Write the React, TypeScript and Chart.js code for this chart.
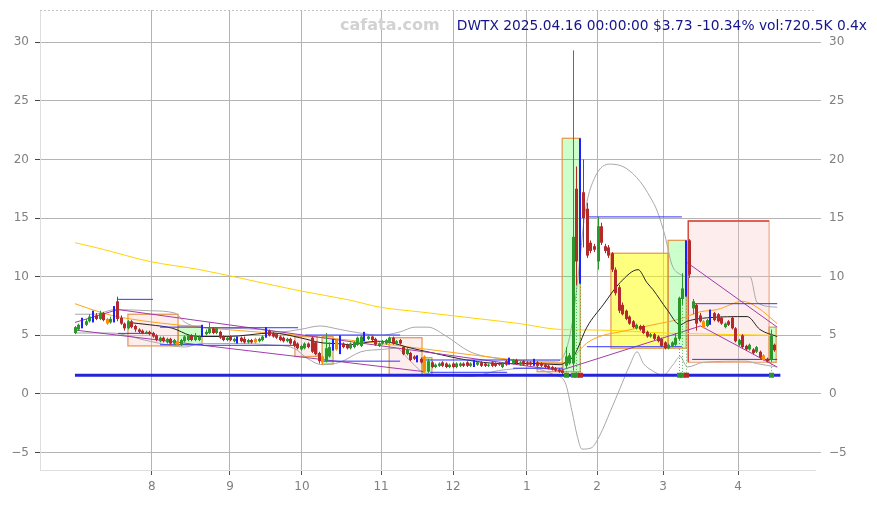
import React, { useEffect, useRef } from "react";
import { Chart, registerables } from "chart.js";
Chart.register(...registerables);

// ---------- candle data (trading-day index 0..198) ----------
const opens = [
  5.2,5.5,5.7,5.9,6.2,6.2,6.7,6.4,6.9,6.4,
  6.1,6.2,7.9,6.5,6.0,5.6,6.2,5.8,5.5,5.4,
  5.2,5.3,5.2,5.0,4.5,4.8,4.4,4.7,4.3,4.5,
  4.2,4.5,4.6,5.0,4.6,4.6,5.0,5.1,5.2,5.6,
  5.2,5.3,4.9,4.6,4.9,4.5,4.4,4.8,4.7,4.4,
  4.6,4.7,4.5,4.6,4.9,5.4,5.2,5.1,4.9,4.8,
  4.5,4.7,4.5,4.3,3.8,3.9,4.3,4.8,4.4,3.5,
  3.2,2.8,3.2,3.8,4.6,3.5,4.3,4.2,3.9,4.0,
  4.2,4.1,4.6,4.7,4.9,4.7,4.1,4.3,4.3,4.4,
  4.8,4.3,4.6,4.0,3.4,3.5,3.2,2.8,3.0,3.2,
  1.9,2.7,2.3,2.4,2.7,2.6,2.3,2.6,2.3,2.4,
  2.6,2.7,2.4,2.4,2.5,2.7,2.6,2.4,2.7,2.6,
  2.6,2.3,2.8,2.6,2.6,2.9,2.5,2.8,2.7,2.7,
  2.5,2.7,2.6,2.5,2.4,2.3,2.2,2.1,2.0,2.4,
  2.6,2.6,17.5,21.8,17.2,15.8,12.9,12.6,11.3,14.3,
  12.6,12.5,12.0,10.6,9.1,7.6,7.1,6.6,6.2,5.6,
  5.8,5.8,5.3,4.9,5.1,4.9,4.7,4.4,3.9,4.1,
  4.2,4.7,8.1,13.1,13.1,7.3,7.6,6.7,6.2,5.8,
  5.9,6.9,6.8,6.5,5.7,6.2,6.5,5.6,4.2,5.0,
  4.1,3.8,3.8,3.6,3.6,3.3,3.0,2.9,4.2,
];
const closes = [
  5.7,5.9,6.3,6.2,6.6,6.9,6.4,6.9,6.3,6.0,
  6.4,7.3,6.4,6.0,5.6,6.2,5.7,5.5,5.3,5.2,
  5.3,5.1,4.9,4.6,4.8,4.5,4.7,4.3,4.6,4.2,
  4.6,4.9,5.0,4.6,5.0,4.9,5.8,5.3,5.6,5.2,
  5.6,4.8,4.6,4.8,4.6,4.7,4.8,4.5,4.4,4.6,
  4.4,4.4,4.7,4.9,5.6,5.0,4.9,4.8,4.6,4.5,
  4.7,4.3,4.1,3.9,4.1,4.3,4.0,3.6,3.4,2.8,
  2.7,3.9,4.0,4.6,3.8,4.9,4.0,3.9,4.3,4.4,
  4.8,4.9,5.2,4.9,4.6,4.2,4.3,4.5,4.6,4.8,
  4.3,4.5,4.3,3.4,3.8,2.9,3.0,3.2,2.7,1.9,
  2.8,2.3,2.5,2.6,2.4,2.3,2.5,2.3,2.6,2.6,
  2.4,2.4,2.6,2.8,2.7,2.4,2.4,2.5,2.4,2.4,
  2.5,2.6,2.5,3.0,2.9,2.6,2.7,2.5,2.5,2.5,
  2.9,2.4,2.4,2.3,2.2,2.1,2.0,1.9,1.8,3.2,
  3.3,13.4,11.3,9.4,15.0,11.8,12.2,12.3,14.3,12.9,
  12.2,11.8,10.6,8.6,7.1,6.8,6.4,6.0,5.7,5.9,
  5.5,5.2,4.9,5.1,4.7,4.5,4.1,3.9,4.2,4.4,
  4.8,8.2,9.0,8.3,10.2,7.9,6.0,6.2,5.7,6.3,
  7.2,6.3,6.2,6.0,6.0,5.9,5.6,4.5,4.6,4.0,
  3.8,4.2,3.5,4.0,3.1,2.9,2.8,5.0,3.73,
];
const highs = [
  5.8,6.0,6.5,6.4,6.8,7.1,6.9,7.1,7.0,6.5,
  6.6,7.5,8.3,6.7,6.1,6.3,6.3,5.9,5.6,5.5,
  5.4,5.4,5.3,5.1,4.9,4.9,4.8,4.8,4.7,4.6,
  4.7,5.0,5.1,5.1,5.2,5.0,5.9,5.5,6.1,5.7,
  5.7,5.4,5.0,4.9,5.0,4.8,4.9,4.9,4.9,4.7,
  4.7,4.8,4.8,5.0,5.7,5.5,5.3,5.2,5.0,4.9,
  4.8,4.8,4.6,4.4,4.2,4.4,4.4,4.9,4.5,3.6,
  3.3,5.2,4.4,4.7,4.7,5.0,4.4,4.3,4.4,4.5,
  4.9,5.0,5.3,5.0,5.0,4.8,4.4,4.6,4.7,4.9,
  4.9,4.6,4.7,4.1,3.9,3.6,3.3,3.3,3.1,3.3,
  3.0,2.8,2.6,2.7,2.8,2.7,2.6,2.7,2.7,2.7,
  2.7,2.8,2.7,2.9,2.8,2.8,2.7,2.6,2.8,2.7,
  2.7,2.7,2.9,3.1,3.0,3.0,2.8,2.9,2.8,2.8,
  3.0,2.8,2.7,2.6,2.5,2.4,2.3,2.2,2.1,4.0,
  3.5,29.3,19.4,21.8,20.0,16.3,13.1,12.8,15.1,14.6,
  12.8,12.7,12.1,10.8,9.3,7.8,7.2,6.7,6.3,6.0,
  5.9,5.9,5.4,5.2,5.2,5.0,4.8,4.5,4.3,4.5,
  5.2,8.3,10.3,13.1,13.2,8.1,7.7,6.9,6.3,6.4,
  7.2,7.0,6.9,6.6,6.1,6.3,6.6,5.7,4.7,5.1,
  4.2,4.3,3.9,4.1,3.7,3.4,3.1,5.5,4.3,
];
const lows = [
  5.1,5.4,5.6,5.8,6.1,6.1,6.3,6.3,6.2,5.9,
  6.0,6.1,6.2,5.9,5.4,5.5,5.6,5.3,5.2,5.1,
  5.1,5.0,4.8,4.5,4.4,4.4,4.3,4.2,4.2,4.1,
  4.1,4.4,4.5,4.5,4.5,4.5,4.9,5.0,5.1,5.1,
  5.1,4.7,4.5,4.5,4.5,4.4,4.3,4.4,4.3,4.3,
  4.3,4.3,4.4,4.5,4.8,4.9,4.8,4.7,4.5,4.4,
  4.4,4.2,4.0,3.8,3.7,3.8,3.9,3.5,3.3,2.6,
  2.5,2.7,3.1,3.7,3.7,3.4,3.9,3.8,3.8,3.9,
  4.1,4.0,4.5,4.6,4.5,4.1,4.0,4.2,4.2,4.3,
  4.2,4.2,4.2,3.3,3.3,2.8,2.9,2.7,2.6,1.8,
  1.8,2.2,2.2,2.3,2.3,2.2,2.2,2.2,2.2,2.3,
  2.3,2.3,2.3,2.3,2.4,2.3,2.3,2.3,2.3,2.3,
  2.4,2.2,2.4,2.5,2.5,2.5,2.4,2.4,2.4,2.4,
  2.4,2.3,2.3,2.2,2.1,2.0,1.9,1.8,1.7,2.2,
  2.5,2.0,9.3,9.4,12.5,11.6,12.0,12.1,10.6,12.7,
  12.0,11.6,10.4,8.4,6.9,6.7,6.3,5.9,5.6,5.5,
  5.4,5.1,4.8,4.8,4.6,4.4,4.0,3.8,3.8,4.0,
  4.1,4.6,7.6,8.3,9.9,6.8,5.4,6.1,5.6,5.7,
  5.9,6.2,6.1,5.9,5.6,5.8,5.5,4.4,4.1,3.9,
  3.7,3.7,3.4,3.5,3.0,2.8,2.7,2.8,3.6,
];
const blueBars = [2, 5, 11, 36, 46, 54, 73, 75, 82, 97, 113, 123, 130, 143, 173, 180];
const orangeBars = [9, 29, 51, 70, 74, 99, 178, 195];

// ---------- signal markers on the support level ----------
const markerIdx = [139, 141, 142, 143, 171, 172, 173, 197];
const markerUp = [true, true, true, false, true, true, false, true];

// ---------- indicator lines ----------
const grayUpperX = [0,5.7,11.3,21.2,28.3,31.2,35.4,43.9,52.4,58.1,63.7,69.4,75.1,80.7,86.4,92.1,96.3,100,104.8,111.9,120.4,128.9,136,138.8,140.8,142.5,144.5,147.3,151.6,155.8,160.1,162.9,164.9,167.1,169.1,171.4,173.7,191.2,193.2,198.9];
const grayUpperY = [6.8,6.8,7.2,7.1,6.9,6.1,5.7,5.6,5.5,5.3,5.5,5.8,5.5,5.2,5.0,5.3,5.7,5.7,5.0,3.6,3.0,2.8,2.8,3.5,6.0,10.0,15.5,18.5,19.6,19.3,18.1,16.8,15.6,13.5,11.0,10.2,10.0,10.0,7.8,7.4];
const grayLowerX = [0,10,21.2,31.2,35.4,47,55,62,66,70,75,81,87,91,95,99,106,112,120,129,136,138.8,140.8,142.2,143.6,146.2,148.7,151.6,154.4,157.2,159.2,161,163.5,166.6,169.4,171.4,173.4,178,190,193,198.9];
const grayLowerY = [5.2,5.2,4.5,4.0,4.3,4.3,4.2,3.9,3.0,2.5,2.7,3.6,3.8,3.9,2.8,1.8,1.6,1.5,2.0,2.2,1.6,1.0,-1.5,-3.5,-4.7,-4.6,-3.5,-1.5,0.5,2.5,3.6,2.6,2.0,1.6,2.5,3.2,2.3,2.7,2.8,2.6,2.3];
const blackX = [15,21.2,27.7,32.6,35.4,43,56,63.7,70.3,74.2,77.9,85.5,90,94,101.4,111,120.4,130,137.4,139.4,141.4,145,149.6,154.4,159.5,162,163.7,167.7,171.4,173.4,179.2,190.4,194,198.9];
const blackY = [6.1,5.9,5.6,5.0,4.9,4.9,5.2,4.8,4.35,4.3,4.2,4.5,4.35,4.0,3.5,2.9,2.6,2.6,2.5,2.8,3.3,5.7,7.6,9.5,10.6,9.5,8.9,7.2,5.9,6.2,6.5,6.6,5.5,4.9];
const yellowX = [0,7.1,21.2,35.4,49.6,63.7,77.9,86.4,97.7,111.9,126,137.4,148.7,167.1,198.9];
const yellowY = [12.9,12.4,11.3,10.6,9.7,8.8,8.0,7.4,7.0,6.5,6.0,5.5,5.45,5.2,5.0];
const orangeX = [0,7.9,13.6,35.4,63.7,82.4,101.4,120.4,137.4,140.2,145,149.6,154.4,163.7,171.4,177,181.9,189.2,193.2,198.9];
const orangeY = [7.7,6.9,6.5,5.7,5.0,4.45,3.75,3.05,2.6,2.9,4.35,5.0,5.3,5.9,6.4,7.0,7.2,7.9,7.4,6.0];

// trend lines [x1, y1, x2, y2]
const purpleLines = [
  [0, 6.1, 12.2, 7.2],
  [12.2, 7.2, 137.4, 2.0],
  [0, 5.45, 99, 1.9],
  [137.4, 2.0, 177.2, 5.8],
  [177.2, 5.8, 198.9, 2.3],
  [173.4, 11.2, 198.9, 5.7],
];
// support / resistance segments [x1, x2, level]
const levelSegments = [
  [12.2, 22.1, 8.07], [12.2, 22.1, 5.17],
  [24.1, 36.3, 5.7], [24.1, 36.3, 4.2],
  [36.3, 63.2, 5.65], [36.3, 63.2, 4.15],
  [65.2, 92.1, 5.03], [70, 92.1, 2.8],
  [98.3, 137.4, 2.9], [100.6, 122.4, 1.85], [124.1, 138.2, 2.2],
  [145, 171.9, 15.1], [145, 171.9, 4.03],
  [174.8, 198.9, 7.7], [174.8, 198.9, 2.95],
];
const supportLevel = 1.6;
const supportFrom = 0;
const supportTo = 199.8;

// zones
const boxX1 = [15.0, 29.2, 62.3, 70.0, 89.0, 98.3, 130.9, 138.0, 151.8, 168.0, 173.7, 196.6];
const boxX2 = [29.2, 36.0, 68.6, 73.1, 98.3, 101.1, 138.2, 143.1, 168.0, 173.1, 196.6, 198.6];
const boxTop = [6.8, 5.8, 4.9, 4.9, 4.8, 3.1, 2.65, 21.8, 12.0, 13.1, 14.75, 5.7];
const boxBottom = [4.1, 4.2, 3.2, 2.55, 1.6, 1.6, 1.9, 1.9, 3.9, 3.9, 2.7, 2.7];
const boxKind = ["pink", "green", "pink", "green", "pink", "green", "pink", "green", "yellow", "green", "red", "green"];

// axes
const monthTickPos = [21.8, 43.9, 64.3, 86.7, 107.1, 128, 147.9, 166.6, 187.8];
const monthLabels = ["8", "9", "10", "11", "12", "1", "2", "3", "4"];
const yTickValues = [-5, 0, 5, 10, 15, 20, 25, 30];
const yTickLabels = ["\u22125", "0", "5", "10", "15", "20", "25", "30"];
const X_MIN = -9.9, X_MAX = 209.6, Y_MIN = -6.48, Y_MAX = 32.74;

const titleText = "DWTX 2025.04.16 00:00:00 $3.73 -10.34% vol:720.5K 0.4x";
const watermark = "cafata.com";

const GREEN = "#2b962b", RED = "#b42a2a", BLUE = "#1f1fff", ORANGE = "#ff8c00";
const FONT = "DejaVu Sans";

const pts = (xs: number[], ys: number[]) => xs.map((x, i) => ({ x, y: ys[i] }));

const lineDs = (data: any[], color: string, width = 1, smooth = true) => ({
  type: "line" as const,
  data,
  borderColor: color,
  backgroundColor: color,
  borderWidth: width,
  pointRadius: 0,
  fill: false,
  spanGaps: false,
  cubicInterpolationMode: smooth ? ("monotone" as const) : ("default" as const),
  tension: 0,
  xAxisID: "x",
  yAxisID: "y",
});

const boxPlugin = {
  id: "zones",
  beforeDatasetsDraw(chart: any) {
    const { ctx, chartArea } = chart;
    const xs = chart.scales.x, ys = chart.scales.y;
    ctx.save();
    ctx.beginPath();
    ctx.rect(chartArea.left, chartArea.top, chartArea.right - chartArea.left, chartArea.bottom - chartArea.top);
    ctx.clip();
    for (let i = 0; i < boxX1.length; i++) {
      const x1 = xs.getPixelForValue(boxX1[i]);
      const x2 = xs.getPixelForValue(boxX2[i]);
      const y1 = ys.getPixelForValue(boxTop[i]);
      const y2 = ys.getPixelForValue(boxBottom[i]);
      const k = boxKind[i];
      ctx.fillStyle =
        k === "green" ? "rgba(0,255,0,0.2)" :
        k === "yellow" ? "rgba(255,255,0,0.5)" :
        "rgba(248,190,185,0.28)";
      ctx.fillRect(x1, y1, x2 - x1, y2 - y1);
      ctx.lineWidth = 1.3;
      if (k === "red") {
        ctx.strokeStyle = "rgba(240,170,130,0.9)";
        ctx.strokeRect(x1, y1, x2 - x1, y2 - y1);
        ctx.strokeStyle = "rgba(210,60,50,0.95)";
        ctx.beginPath();
        ctx.moveTo(x1, y2); ctx.lineTo(x1, y1); ctx.lineTo(x2, y1);
        ctx.stroke();
      } else {
        ctx.strokeStyle = "rgba(228,140,60,0.85)";
        ctx.strokeRect(x1, y1, x2 - x1, y2 - y1);
      }
    }
    ctx.restore();
  },
};

const candlePlugin = {
  id: "candles",
  afterDatasetsDraw(chart: any) {
    const { ctx, chartArea } = chart;
    const xs = chart.scales.x, ys = chart.scales.y;
    ctx.save();
    ctx.beginPath();
    ctx.rect(chartArea.left, chartArea.top, chartArea.right - chartArea.left, chartArea.bottom - chartArea.top);
    ctx.clip();
    for (let i = 0; i < opens.length; i++) {
      const cx = Math.round(xs.getPixelForValue(i));
      const yo = ys.getPixelForValue(opens[i]);
      const yc = ys.getPixelForValue(closes[i]);
      const yh = ys.getPixelForValue(highs[i]);
      const yl = ys.getPixelForValue(lows[i]);
      if (blueBars.includes(i)) {
        ctx.fillStyle = BLUE;
        ctx.fillRect(cx - 1, yh, 2, Math.max(1, yl - yh));
        continue;
      }
      const color = orangeBars.includes(i) ? ORANGE : closes[i] >= opens[i] ? GREEN : RED;
      ctx.fillStyle = color;
      ctx.fillRect(cx, yh, 1, Math.max(1, yl - yh));
      const top = Math.min(yo, yc);
      const h = Math.max(1, Math.abs(yc - yo));
      ctx.fillRect(cx - 1, top, 3, h);
    }
    // markers on the support level
    const ySup = ys.getPixelForValue(supportLevel);
    for (let k = 0; k < markerIdx.length; k++) {
      const i = markerIdx[k];
      const cx = Math.round(xs.getPixelForValue(i));
      const yl = ys.getPixelForValue(lows[i]);
      ctx.strokeStyle = "rgba(40,160,40,0.8)";
      ctx.lineWidth = 1;
      ctx.setLineDash([1, 2]);
      ctx.beginPath();
      ctx.moveTo(cx + 0.5, yl);
      ctx.lineTo(cx + 0.5, ySup);
      ctx.stroke();
      ctx.setLineDash([]);
      ctx.fillStyle = markerUp[k] ? GREEN : RED;
      ctx.fillRect(cx - 2, ySup - 2.5, 5, 5);
    }
    ctx.restore();
  },
};

const overlayPlugin = {
  id: "overlay",
  afterDraw(chart: any) {
    const { ctx, chartArea } = chart;
    ctx.save();
    ctx.strokeStyle = "#c4c4c4";
    ctx.lineWidth = 1;
    ctx.setLineDash([2, 2]);
    ctx.beginPath();
    ctx.moveTo(chartArea.left, chartArea.top + 0.5);
    ctx.lineTo(chartArea.right, chartArea.top + 0.5);
    ctx.stroke();
    ctx.setLineDash([]);
    ctx.textBaseline = "middle";
    ctx.font = `bold 16px "${FONT}"`;
    ctx.fillStyle = "#d2d2d2";
    ctx.textAlign = "left";
    ctx.fillText(watermark, 340, 26);
    ctx.font = `13.8px "${FONT}"`;
    ctx.fillStyle = "#14148c";
    ctx.textAlign = "right";
    ctx.fillText(titleText, 867, 26);
    ctx.restore();
  },
};

const fitVertical = (width: number) => (s: any) => {
  s.width = width;
  s.paddingTop = 0;
  s.paddingBottom = 0;
};

export default function App() {
  const ref = useRef<HTMLCanvasElement>(null);
  useEffect(() => {
    document.body.style.margin = "0";
    const purpleData: any[] = [];
    purpleLines.forEach(([x1, y1, x2, y2]) => {
      purpleData.push({ x: x1, y: y1 }, { x: x2, y: y2 }, { x: x2, y: null });
    });
    const levelData: any[] = [];
    levelSegments.forEach(([x1, x2, v]) => {
      levelData.push({ x: x1, y: v }, { x: x2, y: v }, { x: x2, y: null });
    });
    const tickFont = { family: FONT, size: 12 };
    const chart = new Chart(ref.current as HTMLCanvasElement, {
      type: "line",
      data: {
        datasets: [
          { ...lineDs([{ x: supportFrom, y: supportLevel }, { x: supportTo, y: supportLevel }], "#2424d8", 3, false), order: 0 },
          { ...lineDs(levelData, "#3434ff", 1, false), order: 1 },
          { ...lineDs(purpleData, "#a03cac", 1, false), order: 2 },
          { ...lineDs(pts(blackX, blackY), "#222222", 1), order: 3 },
          { ...lineDs(pts(orangeX, orangeY), "#ffa31a", 1), order: 4 },
          { ...lineDs(pts(yellowX, yellowY), "#ffd400", 1), order: 5 },
          { ...lineDs(pts(grayUpperX, grayUpperY), "#a8a8a8", 1), order: 6 },
          { ...lineDs(pts(grayLowerX, grayLowerY), "#a8a8a8", 1), order: 7 },
        ] as any,
      },
      options: {
        animation: false,
        responsive: false,
        devicePixelRatio: 1,
        events: [],
        parsing: true,
        layout: { padding: { top: 10, left: 0, right: 0, bottom: 0 } },
        plugins: { legend: { display: false }, tooltip: { enabled: false }, title: { display: false } },
        scales: {
          x: {
            type: "linear",
            position: "bottom",
            min: X_MIN,
            max: X_MAX,
            offset: false,
            afterBuildTicks: (s: any) => { s.ticks = monthTickPos.map((v) => ({ value: v })); },
            afterFit: (s: any) => { s.height = 35; s.paddingLeft = 0; s.paddingRight = 0; },
            ticks: {
              autoSkip: false, maxRotation: 0, padding: 5, color: "#808080", font: tickFont,
              callback: (_v: any, i: number) => monthLabels[i],
            },
            grid: { color: "#b4b4b4", lineWidth: 1, tickLength: 5, tickColor: "#555" },
            border: { display: true, color: "#dedede" },
          },
          y: {
            type: "linear",
            position: "left",
            min: Y_MIN,
            max: Y_MAX,
            afterBuildTicks: (s: any) => { s.ticks = yTickValues.map((v) => ({ value: v })); },
            afterFit: fitVertical(40),
            ticks: {
              padding: 6, color: "#808080", font: tickFont,
              callback: (_v: any, i: number) => yTickLabels[i],
            },
            grid: { color: "#b4b4b4", lineWidth: 1, tickLength: 5, tickColor: "#444" },
            border: { display: true, color: "#dedede" },
          },
          y2: {
            type: "linear",
            position: "right",
            min: Y_MIN,
            max: Y_MAX,
            afterBuildTicks: (s: any) => { s.ticks = yTickValues.map((v) => ({ value: v })); },
            afterFit: fitVertical(62),
            ticks: {
              padding: 8, color: "#808080", font: tickFont,
              callback: (_v: any, i: number) => yTickLabels[i],
            },
            grid: { drawOnChartArea: false, tickLength: 6, tickColor: "#b4b4b4" },
            border: { display: false },
          },
        },
      } as any,
      plugins: [boxPlugin, candlePlugin, overlayPlugin],
    });
    return () => chart.destroy();
  }, []);
  return (
    <div style={{ position: "absolute", left: 0, top: 0, width: 877, height: 505, background: "#fff" }}>
      <canvas ref={ref} width={877} height={505} style={{ display: "block", width: 877, height: 505 }} />
    </div>
  );
}
